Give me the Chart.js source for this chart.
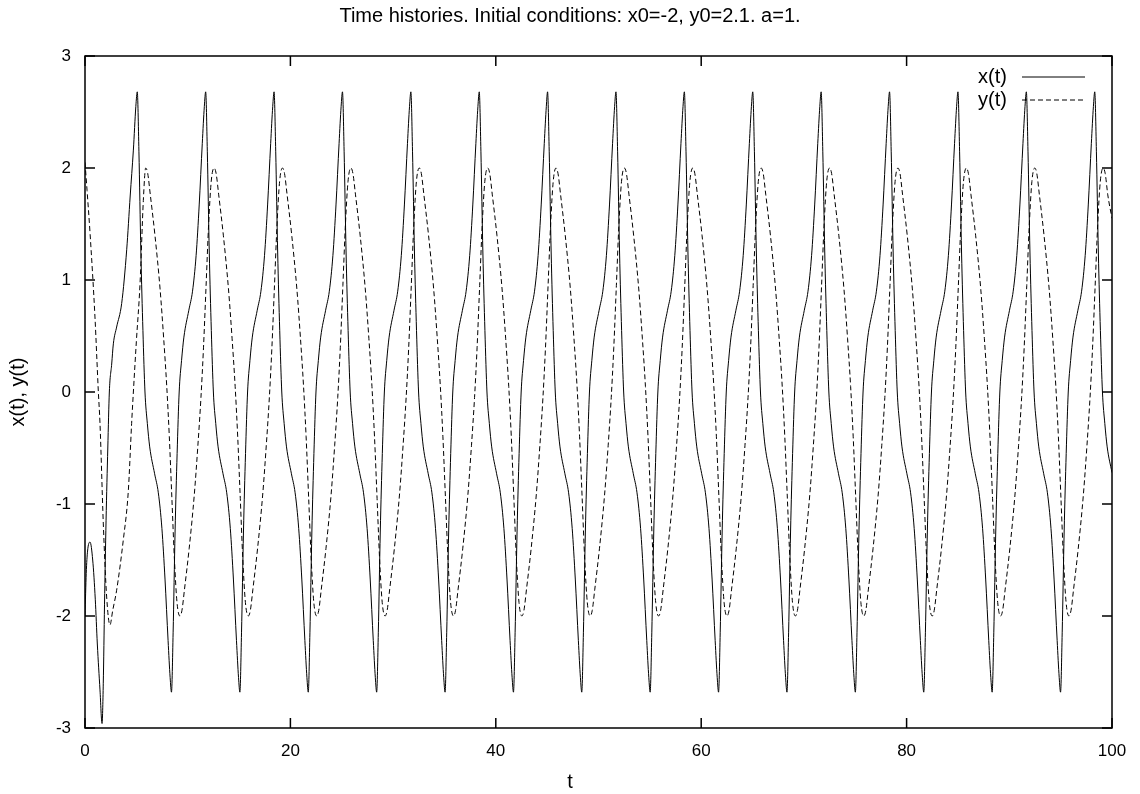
<!DOCTYPE html>
<html>
<head>
<meta charset="utf-8">
<title>Time histories</title>
<script src="https://cdn.jsdelivr.net/npm/chart.js@4.4.0/dist/chart.umd.min.js"></script>
<style>
  html, body { margin: 0; padding: 0; background: #fff; }
  canvas { display: block; }
</style>
</head>
<body>
<canvas id="chart" width="1140" height="794"></canvas>
<script>
const chartTitle = 'Time histories. Initial conditions: x0=-2, y0=2.1. a=1.';
const xAxisTitle = 't';
const yAxisTitle = 'x(t), y(t)';
const seriesLabels = ['x(t)', 'y(t)'];
const xTicks = [0, 20, 40, 60, 80, 100];
const yTicks = [-3, -2, -1, 0, 1, 2, 3];

// x(t): times and values
const tX = [
  0.00, 0.12, 0.25, 0.49, 0.75, 1.00, 1.20, 1.46, 1.66, 1.78, 1.90, 2.05, 2.22, 2.37, 2.60, 2.76, 3.08, 3.57, 4.06, 4.40, 4.71, 4.95,
  5.09, 5.25, 5.44, 5.64, 5.84, 6.07, 6.30, 6.78, 7.14, 7.49, 7.79, 8.09, 8.29, 8.42, 8.58, 8.77, 8.97, 9.17, 9.40, 9.63, 10.11, 10.47, 10.82, 11.12, 11.42, 11.62,
  11.75, 11.91, 12.10, 12.30, 12.50, 12.73, 12.96, 13.44, 13.80, 14.15, 14.45, 14.75, 14.95, 15.08, 15.24, 15.43, 15.63, 15.83, 16.06, 16.29, 16.77, 17.13, 17.48, 17.78, 18.08, 18.28,
  18.41, 18.57, 18.76, 18.96, 19.16, 19.39, 19.62, 20.10, 20.46, 20.81, 21.11, 21.41, 21.61, 21.74, 21.90, 22.09, 22.29, 22.49, 22.72, 22.95, 23.43, 23.79, 24.14, 24.44, 24.74, 24.94,
  25.07, 25.23, 25.42, 25.62, 25.82, 26.05, 26.28, 26.76, 27.12, 27.47, 27.77, 28.07, 28.27, 28.40, 28.56, 28.75, 28.95, 29.15, 29.38, 29.61, 30.09, 30.45, 30.80, 31.10, 31.40, 31.60,
  31.73, 31.89, 32.08, 32.28, 32.48, 32.71, 32.94, 33.42, 33.78, 34.13, 34.43, 34.73, 34.93, 35.06, 35.22, 35.41, 35.61, 35.81, 36.04, 36.27, 36.75, 37.11, 37.46, 37.76, 38.06, 38.26,
  38.39, 38.55, 38.74, 38.94, 39.14, 39.37, 39.60, 40.08, 40.44, 40.79, 41.09, 41.39, 41.59, 41.72, 41.88, 42.07, 42.27, 42.47, 42.70, 42.93, 43.41, 43.77, 44.12, 44.42, 44.72, 44.92,
  45.04, 45.20, 45.39, 45.59, 45.79, 46.02, 46.25, 46.73, 47.09, 47.44, 47.74, 48.04, 48.24, 48.37, 48.53, 48.72, 48.92, 49.12, 49.35, 49.58, 50.06, 50.42, 50.77, 51.07, 51.37, 51.57,
  51.70, 51.86, 52.05, 52.25, 52.45, 52.68, 52.91, 53.39, 53.75, 54.10, 54.40, 54.70, 54.90, 55.03, 55.19, 55.38, 55.58, 55.78, 56.01, 56.24, 56.72, 57.08, 57.43, 57.73, 58.03, 58.23,
  58.36, 58.52, 58.71, 58.91, 59.11, 59.34, 59.57, 60.05, 60.41, 60.76, 61.06, 61.36, 61.56, 61.69, 61.85, 62.04, 62.24, 62.44, 62.67, 62.90, 63.38, 63.74, 64.09, 64.39, 64.69, 64.89,
  65.02, 65.18, 65.37, 65.57, 65.77, 66.00, 66.23, 66.71, 67.07, 67.42, 67.72, 68.02, 68.22, 68.35, 68.51, 68.70, 68.90, 69.10, 69.33, 69.56, 70.04, 70.40, 70.75, 71.05, 71.35, 71.55,
  71.68, 71.84, 72.03, 72.23, 72.43, 72.66, 72.89, 73.37, 73.73, 74.08, 74.38, 74.68, 74.88, 75.01, 75.17, 75.36, 75.56, 75.76, 75.99, 76.22, 76.70, 77.06, 77.41, 77.71, 78.01, 78.21,
  78.34, 78.50, 78.69, 78.89, 79.09, 79.32, 79.55, 80.03, 80.39, 80.74, 81.04, 81.34, 81.54, 81.67, 81.83, 82.02, 82.22, 82.42, 82.65, 82.88, 83.36, 83.72, 84.07, 84.37, 84.67, 84.87,
  85.00, 85.16, 85.35, 85.55, 85.75, 85.98, 86.21, 86.69, 87.05, 87.40, 87.70, 88.00, 88.20, 88.33, 88.49, 88.68, 88.88, 89.08, 89.31, 89.54, 90.02, 90.38, 90.73, 91.03, 91.33, 91.53,
  91.66, 91.82, 92.01, 92.21, 92.41, 92.64, 92.87, 93.35, 93.71, 94.06, 94.36, 94.66, 94.86, 94.99, 95.15, 95.34, 95.54, 95.74, 95.97, 96.20, 96.68, 97.04, 97.39, 97.69, 97.99, 98.19,
  98.32, 98.48, 98.67, 98.87, 99.07, 99.30, 99.53, 100.00
];
const xVals = [
  -2.00, -1.62, -1.42, -1.34, -1.50, -1.85, -2.25, -2.66, -2.96, -2.60, -1.90, -1.15, -0.50, 0.00, 0.25, 0.43, 0.58, 0.79, 1.27, 1.75, 2.16, 2.55,
  2.68, 2.15, 1.25, 0.55, 0.00, -0.28, -0.49, -0.73, -0.90, -1.22, -1.67, -2.22, -2.55, -2.68, -2.15, -1.25, -0.55, 0.00, 0.28, 0.49, 0.73, 0.90, 1.22, 1.67, 2.22, 2.55,
  2.68, 2.15, 1.25, 0.55, 0.00, -0.28, -0.49, -0.73, -0.90, -1.22, -1.67, -2.22, -2.55, -2.68, -2.15, -1.25, -0.55, 0.00, 0.28, 0.49, 0.73, 0.90, 1.22, 1.67, 2.22, 2.55,
  2.68, 2.15, 1.25, 0.55, 0.00, -0.28, -0.49, -0.73, -0.90, -1.22, -1.67, -2.22, -2.55, -2.68, -2.15, -1.25, -0.55, 0.00, 0.28, 0.49, 0.73, 0.90, 1.22, 1.67, 2.22, 2.55,
  2.68, 2.15, 1.25, 0.55, 0.00, -0.28, -0.49, -0.73, -0.90, -1.22, -1.67, -2.22, -2.55, -2.68, -2.15, -1.25, -0.55, 0.00, 0.28, 0.49, 0.73, 0.90, 1.22, 1.67, 2.22, 2.55,
  2.68, 2.15, 1.25, 0.55, 0.00, -0.28, -0.49, -0.73, -0.90, -1.22, -1.67, -2.22, -2.55, -2.68, -2.15, -1.25, -0.55, 0.00, 0.28, 0.49, 0.73, 0.90, 1.22, 1.67, 2.22, 2.55,
  2.68, 2.15, 1.25, 0.55, 0.00, -0.28, -0.49, -0.73, -0.90, -1.22, -1.67, -2.22, -2.55, -2.68, -2.15, -1.25, -0.55, 0.00, 0.28, 0.49, 0.73, 0.90, 1.22, 1.67, 2.22, 2.55,
  2.68, 2.15, 1.25, 0.55, 0.00, -0.28, -0.49, -0.73, -0.90, -1.22, -1.67, -2.22, -2.55, -2.68, -2.15, -1.25, -0.55, 0.00, 0.28, 0.49, 0.73, 0.90, 1.22, 1.67, 2.22, 2.55,
  2.68, 2.15, 1.25, 0.55, 0.00, -0.28, -0.49, -0.73, -0.90, -1.22, -1.67, -2.22, -2.55, -2.68, -2.15, -1.25, -0.55, 0.00, 0.28, 0.49, 0.73, 0.90, 1.22, 1.67, 2.22, 2.55,
  2.68, 2.15, 1.25, 0.55, 0.00, -0.28, -0.49, -0.73, -0.90, -1.22, -1.67, -2.22, -2.55, -2.68, -2.15, -1.25, -0.55, 0.00, 0.28, 0.49, 0.73, 0.90, 1.22, 1.67, 2.22, 2.55,
  2.68, 2.15, 1.25, 0.55, 0.00, -0.28, -0.49, -0.73, -0.90, -1.22, -1.67, -2.22, -2.55, -2.68, -2.15, -1.25, -0.55, 0.00, 0.28, 0.49, 0.73, 0.90, 1.22, 1.67, 2.22, 2.55,
  2.68, 2.15, 1.25, 0.55, 0.00, -0.28, -0.49, -0.73, -0.90, -1.22, -1.67, -2.22, -2.55, -2.68, -2.15, -1.25, -0.55, 0.00, 0.28, 0.49, 0.73, 0.90, 1.22, 1.67, 2.22, 2.55,
  2.68, 2.15, 1.25, 0.55, 0.00, -0.28, -0.49, -0.73, -0.90, -1.22, -1.67, -2.22, -2.55, -2.68, -2.15, -1.25, -0.55, 0.00, 0.28, 0.49, 0.73, 0.90, 1.22, 1.67, 2.22, 2.55,
  2.68, 2.15, 1.25, 0.55, 0.00, -0.28, -0.49, -0.73, -0.90, -1.22, -1.67, -2.22, -2.55, -2.68, -2.15, -1.25, -0.55, 0.00, 0.28, 0.49, 0.73, 0.90, 1.22, 1.67, 2.22, 2.55,
  2.68, 2.15, 1.25, 0.55, 0.00, -0.28, -0.49, -0.73, -0.90, -1.22, -1.67, -2.22, -2.55, -2.68, -2.15, -1.25, -0.55, 0.00, 0.28, 0.49, 0.73, 0.90, 1.22, 1.67, 2.22, 2.55,
  2.68, 2.15, 1.25, 0.55, 0.00, -0.28, -0.49, -0.72
];

// y(t): times and values
const tY = [
  0.00, 0.20, 0.49, 0.97, 1.30, 1.46, 1.78, 2.11, 2.43, 2.70, 3.08, 3.73, 4.22, 4.54, 4.71, 5.00, 5.36, 5.68,
  5.91, 6.11, 6.36, 6.81, 7.31, 7.66, 7.96, 8.21, 8.46, 8.71, 8.96, 9.24, 9.44, 9.69, 10.14, 10.64, 10.99, 11.29, 11.54, 11.79, 12.04, 12.29,
  12.57, 12.77, 13.02, 13.47, 13.97, 14.32, 14.62, 14.87, 15.12, 15.37, 15.62, 15.90, 16.10, 16.35, 16.80, 17.30, 17.65, 17.95, 18.20, 18.45, 18.70, 18.95,
  19.23, 19.43, 19.68, 20.13, 20.63, 20.98, 21.28, 21.53, 21.78, 22.03, 22.28, 22.56, 22.76, 23.01, 23.46, 23.96, 24.31, 24.61, 24.86, 25.11, 25.36, 25.61,
  25.89, 26.09, 26.34, 26.79, 27.29, 27.64, 27.94, 28.19, 28.44, 28.69, 28.94, 29.22, 29.42, 29.67, 30.12, 30.62, 30.97, 31.27, 31.52, 31.77, 32.02, 32.27,
  32.55, 32.75, 33.00, 33.45, 33.95, 34.30, 34.60, 34.85, 35.10, 35.35, 35.60, 35.88, 36.08, 36.33, 36.78, 37.28, 37.63, 37.93, 38.18, 38.43, 38.68, 38.93,
  39.21, 39.41, 39.66, 40.11, 40.61, 40.96, 41.26, 41.51, 41.76, 42.01, 42.26, 42.54, 42.74, 42.99, 43.44, 43.94, 44.29, 44.59, 44.84, 45.09, 45.34, 45.59,
  45.86, 46.06, 46.31, 46.76, 47.26, 47.61, 47.91, 48.16, 48.41, 48.66, 48.91, 49.19, 49.39, 49.64, 50.09, 50.59, 50.94, 51.24, 51.49, 51.74, 51.99, 52.24,
  52.52, 52.72, 52.97, 53.42, 53.92, 54.27, 54.57, 54.82, 55.07, 55.32, 55.57, 55.85, 56.05, 56.30, 56.75, 57.25, 57.60, 57.90, 58.15, 58.40, 58.65, 58.90,
  59.18, 59.38, 59.63, 60.08, 60.58, 60.93, 61.23, 61.48, 61.73, 61.98, 62.23, 62.51, 62.71, 62.96, 63.41, 63.91, 64.26, 64.56, 64.81, 65.06, 65.31, 65.56,
  65.84, 66.04, 66.29, 66.74, 67.24, 67.59, 67.89, 68.14, 68.39, 68.64, 68.89, 69.17, 69.37, 69.62, 70.07, 70.57, 70.92, 71.22, 71.47, 71.72, 71.97, 72.22,
  72.50, 72.70, 72.95, 73.40, 73.90, 74.25, 74.55, 74.80, 75.05, 75.30, 75.55, 75.83, 76.03, 76.28, 76.73, 77.23, 77.58, 77.88, 78.13, 78.38, 78.63, 78.88,
  79.16, 79.36, 79.61, 80.06, 80.56, 80.91, 81.21, 81.46, 81.71, 81.96, 82.21, 82.49, 82.69, 82.94, 83.39, 83.89, 84.24, 84.54, 84.79, 85.04, 85.29, 85.54,
  85.82, 86.02, 86.27, 86.72, 87.22, 87.57, 87.87, 88.12, 88.37, 88.62, 88.87, 89.15, 89.35, 89.60, 90.05, 90.55, 90.90, 91.20, 91.45, 91.70, 91.95, 92.20,
  92.48, 92.68, 92.93, 93.38, 93.88, 94.23, 94.53, 94.78, 95.03, 95.28, 95.53, 95.81, 96.01, 96.26, 96.71, 97.21, 97.56, 97.86, 98.11, 98.36, 98.61, 98.86,
  99.14, 99.34, 99.59, 100.00
];
const yVals = [
  2.05, 1.80, 1.42, 0.67, 0.00, -0.28, -1.17, -1.83, -2.08, -1.95, -1.77, -1.32, -0.88, -0.28, 0.00, 0.45, 0.97, 1.71,
  2.00, 1.95, 1.76, 1.40, 0.92, 0.48, 0.05, -0.40, -0.95, -1.50, -1.88, -2.00, -1.95, -1.76, -1.40, -0.92, -0.48, -0.05, 0.40, 0.95, 1.50, 1.88,
  2.00, 1.95, 1.76, 1.40, 0.92, 0.48, 0.05, -0.40, -0.95, -1.50, -1.88, -2.00, -1.95, -1.76, -1.40, -0.92, -0.48, -0.05, 0.40, 0.95, 1.50, 1.88,
  2.00, 1.95, 1.76, 1.40, 0.92, 0.48, 0.05, -0.40, -0.95, -1.50, -1.88, -2.00, -1.95, -1.76, -1.40, -0.92, -0.48, -0.05, 0.40, 0.95, 1.50, 1.88,
  2.00, 1.95, 1.76, 1.40, 0.92, 0.48, 0.05, -0.40, -0.95, -1.50, -1.88, -2.00, -1.95, -1.76, -1.40, -0.92, -0.48, -0.05, 0.40, 0.95, 1.50, 1.88,
  2.00, 1.95, 1.76, 1.40, 0.92, 0.48, 0.05, -0.40, -0.95, -1.50, -1.88, -2.00, -1.95, -1.76, -1.40, -0.92, -0.48, -0.05, 0.40, 0.95, 1.50, 1.88,
  2.00, 1.95, 1.76, 1.40, 0.92, 0.48, 0.05, -0.40, -0.95, -1.50, -1.88, -2.00, -1.95, -1.76, -1.40, -0.92, -0.48, -0.05, 0.40, 0.95, 1.50, 1.88,
  2.00, 1.95, 1.76, 1.40, 0.92, 0.48, 0.05, -0.40, -0.95, -1.50, -1.88, -2.00, -1.95, -1.76, -1.40, -0.92, -0.48, -0.05, 0.40, 0.95, 1.50, 1.88,
  2.00, 1.95, 1.76, 1.40, 0.92, 0.48, 0.05, -0.40, -0.95, -1.50, -1.88, -2.00, -1.95, -1.76, -1.40, -0.92, -0.48, -0.05, 0.40, 0.95, 1.50, 1.88,
  2.00, 1.95, 1.76, 1.40, 0.92, 0.48, 0.05, -0.40, -0.95, -1.50, -1.88, -2.00, -1.95, -1.76, -1.40, -0.92, -0.48, -0.05, 0.40, 0.95, 1.50, 1.88,
  2.00, 1.95, 1.76, 1.40, 0.92, 0.48, 0.05, -0.40, -0.95, -1.50, -1.88, -2.00, -1.95, -1.76, -1.40, -0.92, -0.48, -0.05, 0.40, 0.95, 1.50, 1.88,
  2.00, 1.95, 1.76, 1.40, 0.92, 0.48, 0.05, -0.40, -0.95, -1.50, -1.88, -2.00, -1.95, -1.76, -1.40, -0.92, -0.48, -0.05, 0.40, 0.95, 1.50, 1.88,
  2.00, 1.95, 1.76, 1.40, 0.92, 0.48, 0.05, -0.40, -0.95, -1.50, -1.88, -2.00, -1.95, -1.76, -1.40, -0.92, -0.48, -0.05, 0.40, 0.95, 1.50, 1.88,
  2.00, 1.95, 1.76, 1.40, 0.92, 0.48, 0.05, -0.40, -0.95, -1.50, -1.88, -2.00, -1.95, -1.76, -1.40, -0.92, -0.48, -0.05, 0.40, 0.95, 1.50, 1.88,
  2.00, 1.95, 1.76, 1.40, 0.92, 0.48, 0.05, -0.40, -0.95, -1.50, -1.88, -2.00, -1.95, -1.76, -1.40, -0.92, -0.48, -0.05, 0.40, 0.95, 1.50, 1.88,
  2.00, 1.95, 1.76, 1.55
];

const fontFamily = '"Liberation Sans", Arial, Helvetica, sans-serif';
Chart.defaults.font.family = fontFamily;
Chart.defaults.color = '#000';

// gnuplot-style box, inward ticks on all sides, title, x label and key
const gnuplotFrame = {
    id: 'gnuplotFrame',
    afterDraw(chart) {
        const ctx = chart.ctx;
        const a = chart.chartArea;
        const sx = chart.scales.x, sy = chart.scales.y;
        ctx.save();
        ctx.strokeStyle = '#000';
        ctx.lineWidth = 1.5;
        ctx.strokeRect(a.left, a.top, a.right - a.left, a.bottom - a.top);
        ctx.beginPath();
        sx.ticks.forEach(t => {
            const p = sx.getPixelForValue(t.value);
            ctx.moveTo(p, a.bottom); ctx.lineTo(p, a.bottom - 10);
            ctx.moveTo(p, a.top); ctx.lineTo(p, a.top + 10);
        });
        sy.ticks.forEach(t => {
            const p = sy.getPixelForValue(t.value);
            ctx.moveTo(a.left, p); ctx.lineTo(a.left + 10, p);
            ctx.moveTo(a.right, p); ctx.lineTo(a.right - 10, p);
        });
        ctx.stroke();

        // title and x label are centred on the whole canvas, as in the original
        ctx.fillStyle = '#000';
        ctx.font = '20px ' + fontFamily;
        ctx.textAlign = 'center';
        ctx.textBaseline = 'middle';
        ctx.fillText(chartTitle, chart.width / 2, 16);
        ctx.fillText(xAxisTitle, chart.width / 2, 782);

        ctx.font = '20px ' + fontFamily;
        ctx.textAlign = 'right';
        ctx.lineWidth = 1;
        chart.data.datasets.forEach((ds, i) => {
            const y = a.top + 21 + i * 23;
            ctx.fillText(ds.label, a.right - 105, y);
            ctx.setLineDash(ds.borderDash || []);
            ctx.beginPath();
            ctx.moveTo(a.right - 90, y);
            ctx.lineTo(a.right - 27, y);
            ctx.stroke();
        });
        ctx.restore();
    }
};

const ctx = document.getElementById('chart').getContext('2d');
new Chart(ctx, {
    type: 'line',
    data: {
        datasets: [{
            label: seriesLabels[0],
            data: tX.map((t, i) => ({ x: t, y: xVals[i] })),
            borderColor: '#000',
            borderWidth: 1,
            pointRadius: 0,
            fill: false,
            cubicInterpolationMode: 'monotone'
        }, {
            label: seriesLabels[1],
            data: tY.map((t, i) => ({ x: t, y: yVals[i] })),
            borderColor: '#000',
            borderWidth: 1,
            borderDash: [5, 3],
            pointRadius: 0,
            fill: false,
            cubicInterpolationMode: 'monotone'
        }]
    },
    options: {
        responsive: false,
        animation: false,
        devicePixelRatio: 1,
        layout: { padding: { left: 0, right: 28, top: 56, bottom: 0 } },
        plugins: {
            legend: { display: false },
            title: { display: false },
            tooltip: { enabled: false }
        },
        scales: {
            x: {
                type: 'linear',
                min: 0,
                max: 100,
                afterBuildTicks: s => { s.ticks = xTicks.map(v => ({ value: v })); },
                afterFit: s => { s.height = 66; },
                grid: { display: false, drawTicks: false },
                border: { display: false },
                ticks: { font: { size: 17 }, padding: 13, maxRotation: 0 }
            },
            y: {
                type: 'linear',
                min: -3,
                max: 3,
                afterBuildTicks: s => { s.ticks = yTicks.map(v => ({ value: v })); },
                afterFit: s => { s.width = 85; },
                grid: { display: false, drawTicks: false },
                border: { display: false },
                ticks: { font: { size: 17 }, padding: 14 },
                title: { display: true, text: yAxisTitle, font: { size: 20 }, padding: { top: 6, bottom: 0 } }
            }
        }
    },
    plugins: [gnuplotFrame]
});
</script>
</body>
</html>
